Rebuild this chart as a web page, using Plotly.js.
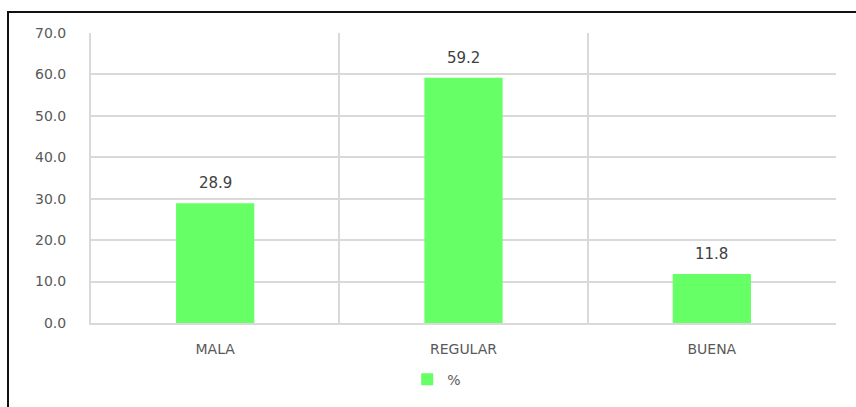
<!DOCTYPE html>
<html>
<head>
<meta charset="utf-8">
<script src="https://cdn.plot.ly/plotly-3.0.1.min.js"></script>
<style>
  html, body { margin: 0; padding: 0; background: #fff; }
  #wrap { position: relative; width: 856px; height: 407px; overflow: hidden; }
  #chart { position: absolute; left: 0; top: 0; width: 856px; height: 407px; }
  #frame { position: absolute; left: 7px; top: 11px; width: 900px; height: 500px; border: 2px solid #111; pointer-events: none; }
</style>
</head>
<body>
<div id="wrap">
  <div id="chart"></div>
  <div id="frame"></div>
</div>
<script>
const categories = ["MALA", "REGULAR", "BUENA"];
const values = [28.9, 59.2, 11.8];
const seriesName = "%";
const yTicks = [0, 10, 20, 30, 40, 50, 60, 70];

const trace = {
  type: "bar",
  x: categories,
  y: values,
  name: seriesName,
  marker: { color: "#66ff66" },
  width: 0.315,
  showlegend: true
};

const labels = categories.map((c, i) => ({
  x: c, y: values[i], xref: "x", yref: "y",
  text: values[i].toFixed(1),
  showarrow: false,
  yanchor: "bottom",
  yshift: 9,
  font: { family: "DejaVu Sans, sans-serif", size: 15, color: "#404040" }
}));

const layout = {
  width: 856, height: 407,
  margin: { l: 91, r: 20, t: 33, b: 81 },
  paper_bgcolor: "rgba(0,0,0,0)",
  plot_bgcolor: "#fff",
  font: { family: "DejaVu Sans, sans-serif", color: "#595959", size: 14 },
  annotations: labels,
  xaxis: {
    type: "category",
    tickson: "boundaries",
    showgrid: true,
    gridcolor: "#d9d9d9",
    gridwidth: 2,
    ticklen: 0,
    showline: true,
    linecolor: "#d9d9d9",
    linewidth: 2,
    zeroline: false,
    ticklabelstandoff: 12,
    tickfont: { size: 14, color: "#595959" },
    fixedrange: true
  },
  yaxis: {
    range: [0, 70],
    tickvals: yTicks,
    ticktext: yTicks.map(v => v.toFixed(1)),
    showgrid: true,
    gridcolor: "#d9d9d9",
    gridwidth: 2,
    showline: true,
    linecolor: "#d9d9d9",
    linewidth: 2,
    zeroline: false,
    ticks: "",
    ticklabelstandoff: 20,
    tickfont: { size: 14, color: "#595959" },
    fixedrange: true
  },
  showlegend: true,
  legend: {
    orientation: "h",
    x: 0.464, xanchor: "center",
    y: -0.195, yanchor: "middle",
    font: { size: 14, color: "#595959" },
    bgcolor: "rgba(0,0,0,0)",
    itemwidth: 30
  },
  bargap: 0.685
};

Plotly.newPlot("chart", [trace], layout, { displayModeBar: false, staticPlot: true });
</script>
</body>
</html>
